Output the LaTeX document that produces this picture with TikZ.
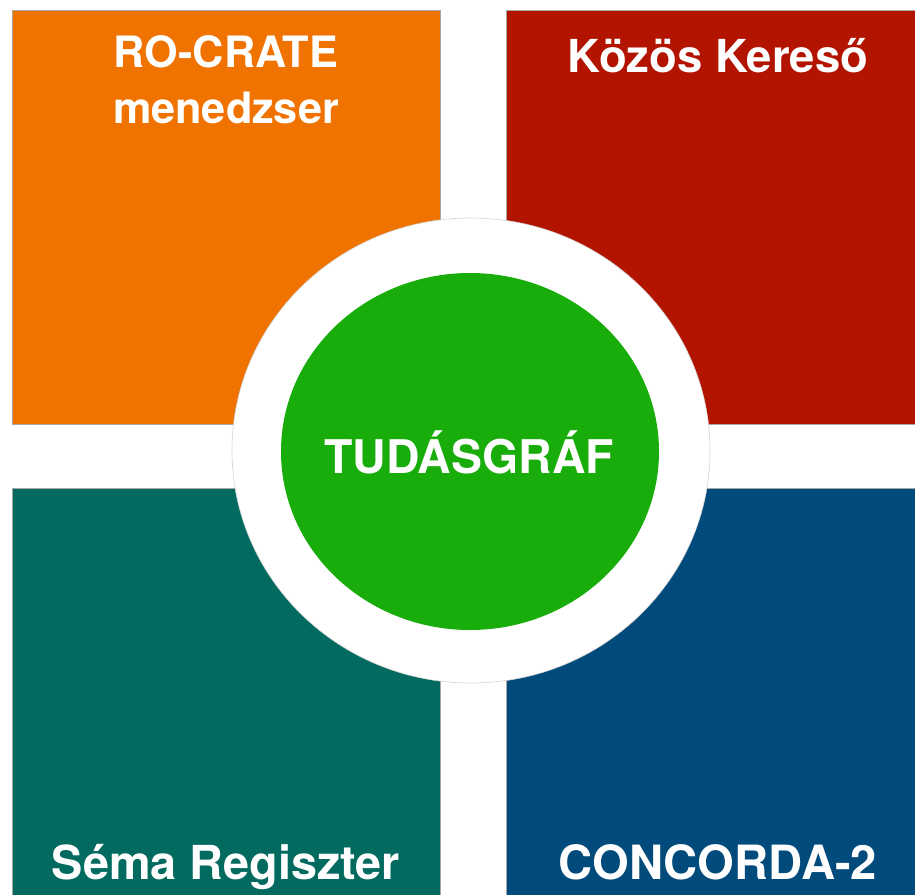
\documentclass[tikz,border=0pt]{standalone}
\usepackage{fontspec}
\setmainfont{TeX Gyre Heros}
\usetikzlibrary{shapes.geometric}

\definecolor{rocrate}{RGB}{240,115,0}
\definecolor{kereso}{RGB}{178,20,0}
\definecolor{sema}{RGB}{3,106,96}
\definecolor{concorda}{RGB}{0,74,124}
\definecolor{graf}{RGB}{24,173,10}

\begin{document}
\begin{tikzpicture}[x=0.5pt, y=-0.5pt,
    tile/.style={draw=gray!70, line width=0.4pt, minimum width=214pt, minimum height=207pt, inner sep=0},
    title/.style={text=white, inner sep=0, align=center}]

  \clip (0,0) rectangle (915,894);
  \fill[white] (0,0) rectangle (915,894);

  \node[tile, fill=rocrate] (rocrate) at (226,217) {};
  \node[tile, fill=kereso] (kereso) at (720,217) {};
  \node[tile, fill=sema] (sema) at (226,695) {};
  \node[tile, fill=concorda] (concorda) at (720,695) {};

  \node[title, anchor=north, font=\fontsize{21.6}{28}\selectfont\bfseries] (rocratetxt) at (226,35) {RO-CRATE\\menedzser};
  \node[title, anchor=base, font=\fontsize{22.7}{27}\selectfont\bfseries] (keresotxt) at (718,72) {Közös Kereső};
  \node[title, anchor=base, font=\fontsize{23.4}{28}\selectfont\bfseries] (sematxt) at (226,879) {Séma Regiszter};
  \node[title, anchor=base, font=\fontsize{23.6}{28}\selectfont\bfseries] (concordatxt) at (718,879) {CONCORDA-2};

  % the knowledge graph in the middle
  \node[ellipse, fill=white, draw=gray!35, line width=0.3pt, minimum width=239pt, minimum height=232.5pt] (ring) at (471,450.5) {};
  \node[ellipse, fill=graf, inner sep=0, minimum width=189pt, minimum height=178.5pt] (graf) at (470,451.5) {};
  \node[title, anchor=base, font=\fontsize{23.2}{28}\selectfont\bfseries] (graftxt) at (469,473) {TUDÁSGRÁF};

\end{tikzpicture}
\end{document}
